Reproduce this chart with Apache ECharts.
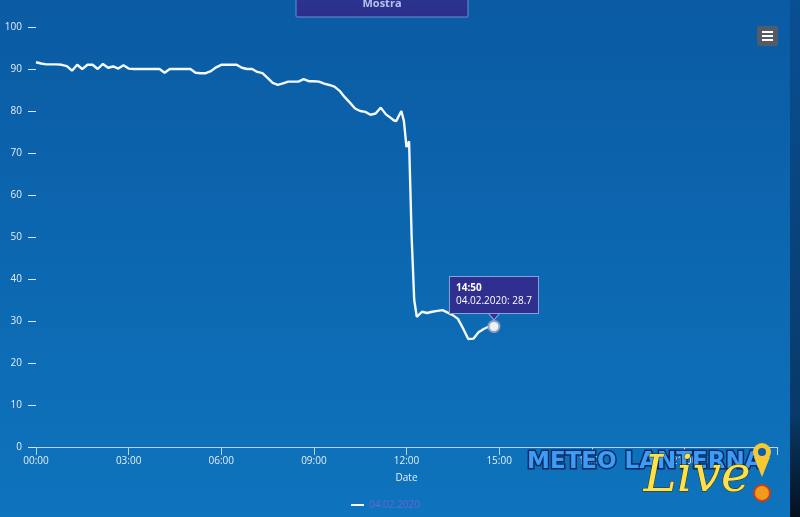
<!DOCTYPE html>
<html>
<head>
<meta charset="utf-8">
<script src="https://cdn.jsdelivr.net/npm/echarts@6/dist/echarts.min.js"></script>
<style>
html,body{margin:0;padding:0;background:#0b5ea6;}
#main{width:800px;height:517px;}
</style>
</head>
<body>
<div id="main"></div>
<script>
// ---- data ----
const seriesName = '04.02.2020';
const times = [
'00:00','00:10','00:20','00:30','00:40','00:50',
'01:00','01:10','01:20','01:30','01:40','01:50',
'02:00','02:10','02:20','02:30','02:40','02:50',
'03:00','03:10','03:20','03:30','03:40','03:50',
'04:00','04:10','04:20','04:30','04:40','04:50',
'05:00','05:10','05:20','05:30','05:40','05:50',
'06:00','06:10','06:20','06:30','06:40','06:50',
'07:00','07:10','07:20','07:30','07:40','07:50',
'08:00','08:10','08:20','08:30','08:40','08:50',
'09:00','09:10','09:20','09:30','09:40','09:50',
'10:00','10:10','10:20','10:30','10:40','10:50',
'11:00','11:10','11:20','11:30','11:35','11:40','11:45','11:50','11:55',
'12:00','12:05','12:10','12:15','12:20','12:30','12:40','12:50',
'13:00','13:10','13:20','13:30','13:40','13:50',
'14:00','14:10','14:20','14:30','14:40','14:50'
];
const values = [
91.6,91.3,91.1,91.1,91.1,91.0,
90.7,89.6,91.0,90.0,91.0,91.0,
90.0,91.2,90.3,90.6,90.1,90.9,
90.1,90.0,90.0,90.0,90.0,90.0,
90.0,89.1,90.0,90.0,90.0,90.0,
90.0,89.1,89.0,89.0,89.5,90.4,
91.0,91.0,91.0,91.0,90.3,90.0,
90.0,89.3,89.0,87.9,86.7,86.2,
86.6,87.0,87.0,87.0,87.6,87.1,
87.1,87.0,86.5,86.2,85.8,84.8,
83.3,82.0,80.6,80.0,79.8,79.1,
79.4,80.8,79.2,78.3,77.8,77.6,78.8,80.0,77.6,
71.4,72.8,50.0,35.0,31.0,32.2,31.9,32.2,
32.4,32.6,32.0,31.4,30.5,28.2,
25.7,25.8,27.3,28.1,28.7,28.7
];
const xTickLabels = ['00:00','03:00','06:00','09:00','12:00','15:00','18:00','21:00',''];
const yTickLabels = ['0','10','20','30','40','50','60','70','80','90','100'];
const xAxisName = 'Date';
const buttonText = 'Mostra';

// ---- helpers ----
function toMin(s){const p=s.split(':');return (+p[0])*60+(+p[1]);}
const lineData = times.map((t,i)=>[toMin(t), values[i]]);
const last = lineData[lineData.length-1];
const FONT = '"Open Sans", "Noto Sans", sans-serif';

const chart = echarts.init(document.getElementById('main'), null, {renderer:'canvas'});
const option = {
  animation:false,
  backgroundColor: new echarts.graphic.LinearGradient(0,0,0,1,[
    {offset:0,color:'#0a5ba3'},{offset:1,color:'#0e74bd'}]),
  textStyle:{fontFamily:FONT},
  grid:{left:36,right:23,top:27,bottom:70,containLabel:false},
  legend:{
    left:346, top:495, itemWidth:13, itemHeight:2, itemGap:5,
    icon:'rect',
    data:[{name:seriesName,itemStyle:{color:'#ffffff'}}],
    textStyle:{color:'#6a62d8',fontSize:10,fontFamily:FONT}
  },
  xAxis:{
    type:'value', min:0, max:1440, interval:180,
    name:xAxisName, nameLocation:'middle', nameGap:26,
    nameTextStyle:{color:'#e6eef8',fontSize:10,fontFamily:FONT},
    axisLine:{show:true,lineStyle:{color:'#b9d3ee',width:1}},
    axisTick:{show:true,length:8,lineStyle:{color:'#b9d3ee'}},
    axisLabel:{color:'#e6eef8',fontSize:10,margin:9,fontFamily:FONT,
      formatter:v=>xTickLabels[Math.round(v/180)]},
    splitLine:{show:false}
  },
  yAxis:{
    type:'value', min:0, max:100, interval:10,
    axisLine:{show:false},
    axisTick:{show:true,length:8,lineStyle:{color:'#dfe9f5'}},
    axisLabel:{color:'#e6eef8',fontSize:10,margin:14,fontFamily:FONT,
      formatter:v=>yTickLabels[Math.round(v/10)]},
    splitLine:{show:false}
  },
  series:[{
    name:seriesName, type:'line', data:lineData,
    showSymbol:false, symbol:'none',
    lineStyle:{color:'#f4f8ff',width:2.4},
    itemStyle:{color:'#ffffff'},
    z:3,
    markPoint:{
      silent:true,
      animation:false,
      data:[
        {coord:last, symbol:'triangle', symbolRotate:180, symbolSize:[12,7],
         symbolOffset:[0,-10],
         itemStyle:{color:'#2e2f8e',borderColor:'#8c9fd8',borderWidth:1},
         label:{show:false}},
        {coord:last, symbol:'circle', symbolSize:11,
         itemStyle:{color:'#eef0f2',borderColor:'#8aa4c4',borderWidth:2},
         label:{show:true,position:'top',distance:7,
           backgroundColor:'#2e2f8e',borderColor:'#8c9fd8',borderWidth:1,
           padding:[5,6,5,6], width:76, align:'center',
           formatter:()=>'{t|'+times[times.length-1]+'}\n{b|'+seriesName+': '+values[values.length-1]+'}',
           rich:{
             t:{color:'#ffffff',fontWeight:'bold',fontSize:10,lineHeight:13,fontFamily:FONT,align:'left'},
             b:{color:'#ffffff',fontSize:10,lineHeight:13,fontFamily:FONT,align:'left'}
           }}}
      ]
    }
  }],
  graphic:[
    {type:'rect', shape:{x:296,y:-6,width:172,height:23,r:1},
     style:{fill:new echarts.graphic.LinearGradient(0,0,0,1,[{offset:0,color:'#2a3592'},{offset:1,color:'#2c2f8a'}]),
            stroke:'#6e8ed3',lineWidth:1}, z:10},
    {type:'text', x:382, y:4,
     style:{text:buttonText, fill:'#b7c3ef', font:'bold 11px '+FONT, align:'center', verticalAlign:'middle'}, z:11},
    {type:'rect', shape:{x:757,y:26,width:21,height:20,r:2}, style:{fill:'#535b66'}, z:10},
    {type:'rect', shape:{x:762,y:31,width:11,height:2}, style:{fill:'#ffffff'}, z:11},
    {type:'rect', shape:{x:762,y:35,width:11,height:2}, style:{fill:'#ffffff'}, z:11},
    {type:'rect', shape:{x:762,y:39,width:11,height:2}, style:{fill:'#ffffff'}, z:11},
    {type:'rect', shape:{x:790,y:0,width:10,height:517},
     style:{fill:new echarts.graphic.LinearGradient(0,0,0,1,[{offset:0,color:'#0a4f93'},{offset:0.8,color:'#083a6a'},{offset:1,color:'#05111f'}])}, z:9},
    {type:'text', x:527, y:462,
     style:{text:'METEO LANTERNA', fill:'#3d9cf5', stroke:'#0b2c66', lineWidth:3,
            font:'bold 23px "DejaVu Sans", sans-serif', verticalAlign:'middle'}, z:12},
    {type:'text', x:697, y:478,
     style:{text:'Live', fill:'#ffe24a', stroke:'#3b3000', lineWidth:1,
            font:'italic 50px "DejaVu Serif", serif', align:'center', verticalAlign:'middle'}, z:13},
    {type:'circle', shape:{cx:762,cy:452,r:9}, style:{fill:'#f6c832'}, z:12},
    {type:'circle', shape:{cx:762,cy:452,r:4}, style:{fill:'#0b5ea6'}, z:13},
    {type:'polygon', shape:{points:[[754,457],[770,457],[762,477]]}, style:{fill:'#f6c832'}, z:12},
    {type:'circle', shape:{cx:762,cy:493,r:8}, style:{fill:'#f39a1c',stroke:'#c4411a',lineWidth:2}, z:12}
  ]
};
chart.setOption(option);
</script>
</body>
</html>
